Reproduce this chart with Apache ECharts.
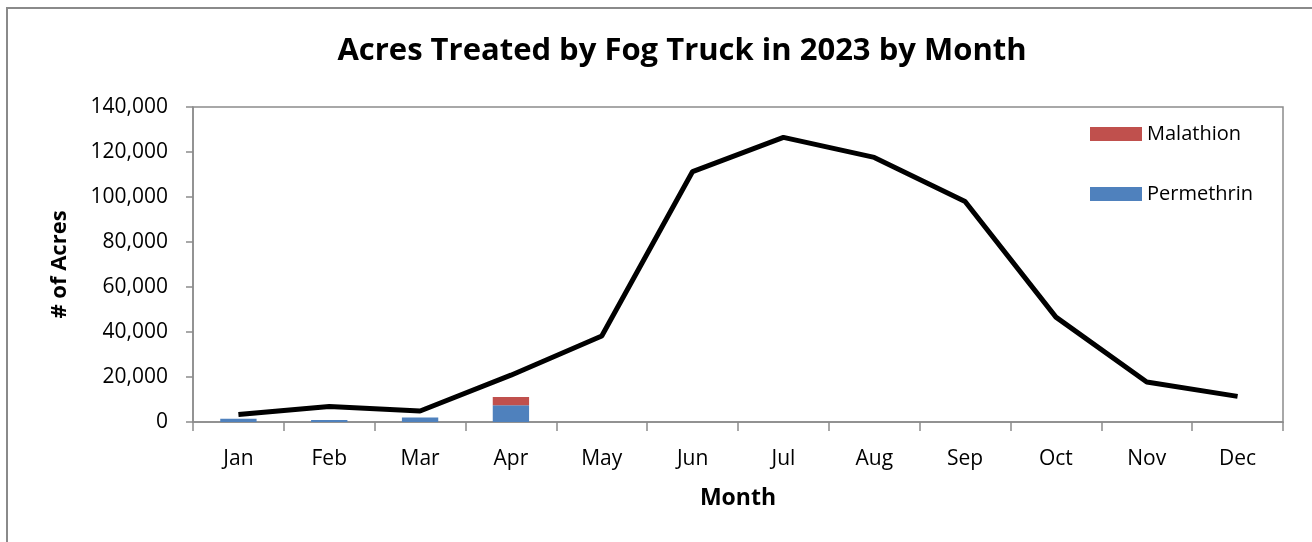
<!DOCTYPE html>
<html>
<head>
<meta charset="utf-8">
<script src="https://cdn.jsdelivr.net/npm/echarts@6/dist/echarts.min.js"></script>
<style>
  html, body { margin: 0; padding: 0; background: #fff; }
  #chart { width: 1312px; height: 542px; }
</style>
</head>
<body>
<div id="chart"></div>
<script>
const months = ['Jan','Feb','Mar','Apr','May','Jun','Jul','Aug','Sep','Oct','Nov','Dec'];
const permethrin = [1500, 900, 2000, 7400, 0, 0, 0, 0, 0, 0, 0, 0];
const malathion = [0, 0, 0, 3700, 0, 0, 0, 0, 0, 0, 0, 0];
const total = [3300, 6900, 4900, 20800, 38200, 111300, 126500, 117600, 98000, 46600, 17800, 11400];
const yTicks = [0, 20000, 40000, 60000, 80000, 100000, 120000, 140000];

const FONT = '"Open Sans", "Noto Sans", sans-serif';
const AXIS_COLOR = '#8c8c8c';

const chart = echarts.init(document.getElementById('chart'));
chart.setOption({
  animation: false,
  textStyle: { fontFamily: FONT },
  title: {
    text: 'Acres Treated by Fog Truck in 2023 by Month',
    left: 682, top: 36, textAlign: 'center', padding: 0,
    textStyle: { fontSize: 31, fontWeight: 'bold', color: '#000', fontFamily: FONT }
  },
  graphic: [{
    type: 'rect', silent: true,
    shape: { x: 7, y: 8, width: 1340, height: 560 },
    style: { fill: null, stroke: '#8a8a8a', lineWidth: 2 }
  }],
  legend: {
    orient: 'vertical',
    left: 1090, top: 124, padding: 0,
    icon: 'rect',
    itemWidth: 52, itemHeight: 14, itemGap: 40,
    data: ['Malathion', 'Permethrin'],
    textStyle: { fontSize: 20, color: '#000', fontFamily: FONT }
  },
  grid: {
    left: 193, right: 29, top: 107, bottom: 120,
    show: true, borderColor: AXIS_COLOR, borderWidth: 1.5, backgroundColor: 'transparent'
  },
  xAxis: {
    type: 'category',
    data: months,
    name: 'Month',
    nameLocation: 'middle',
    nameGap: 65,
    nameTextStyle: { fontSize: 23, fontWeight: 'bold', color: '#000', fontFamily: FONT },
    axisLine: { lineStyle: { color: AXIS_COLOR, width: 1.5 } },
    axisTick: { show: true, length: 9, lineStyle: { color: AXIS_COLOR, width: 1.5 } },
    axisLabel: { fontSize: 21, color: '#000', margin: 27, fontFamily: FONT }
  },
  yAxis: {
    type: 'value',
    min: 0, max: 140000, interval: 20000,
    name: '# of Acres',
    nameLocation: 'middle',
    nameGap: 122,
    nameRotate: 90,
    nameTextStyle: { fontSize: 22, fontWeight: 'bold', color: '#000', fontFamily: FONT },
    splitLine: { show: false },
    axisLine: { show: true, lineStyle: { color: AXIS_COLOR, width: 1.5 } },
    axisTick: { show: true, length: 7, lineStyle: { color: AXIS_COLOR, width: 1.5 } },
    axisLabel: {
      fontSize: 21, color: '#000', margin: 25, fontFamily: FONT,
      formatter: v => yTicks.includes(v) ? v.toLocaleString('en-US') : ''
    }
  },
  series: [
    {
      name: 'Permethrin', type: 'bar', stack: 'acres', data: permethrin,
      barWidth: '40%', itemStyle: { color: '#4F81BD' }
    },
    {
      name: 'Malathion', type: 'bar', stack: 'acres', data: malathion,
      barWidth: '40%', itemStyle: { color: '#C0504D' }
    },
    {
      name: 'Total', type: 'line', data: total,
      symbol: 'none', lineStyle: { color: '#000', width: 5 },
      itemStyle: { color: '#000' }, z: 5
    }
  ]
});
</script>
</body>
</html>
